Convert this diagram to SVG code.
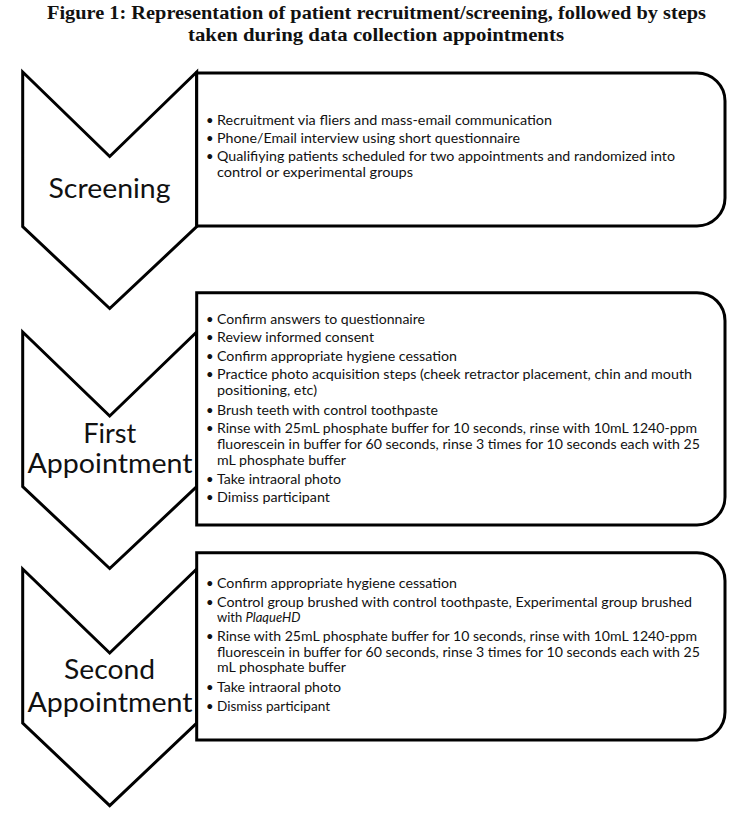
<svg xmlns="http://www.w3.org/2000/svg" width="751" height="816" viewBox="0 0 751 816">
<style>
.title{font-family:"Liberation Serif","Times New Roman",serif;font-weight:bold;font-size:19px;fill:#111;text-anchor:middle}
.shape{fill:#fff;stroke:#000;stroke-width:3;stroke-linejoin:miter}
.lbl{font-family:Lato,"Liberation Sans",sans-serif;font-size:27px;fill:#111;text-anchor:middle}
.t{font-family:Lato,"Liberation Sans",sans-serif;font-size:13px;fill:#111}
</style>
<rect width="751" height="816" fill="#fff"/>
<text class="title" x="376.5" y="19" textLength="659" lengthAdjust="spacingAndGlyphs">Figure 1: Representation of patient recruitment/screening, followed by steps</text>
<text class="title" x="376" y="41" textLength="376" lengthAdjust="spacingAndGlyphs">taken during data collection appointments</text>

<g id="connectors"></g>

<g id="screening">
<path class="shape" d="M22.7,72 L109.7,156.5 L196.7,72 L196.7,226.7 L109.7,308.5 L22.7,226.7 Z"/>
<text class="lbl" x="109.5" y="198" textLength="122" lengthAdjust="spacingAndGlyphs">Screening</text>
</g>
<g id="screening-box">
<path class="shape" d="M196.7,73 H697 A28,28 0 0 1 725,101 V198 A28,28 0 0 1 697,226 H196.7 Z"/>
<g class="t">
<text x="206" y="124.5">•</text><text x="217" y="124.5" textLength="335" lengthAdjust="spacingAndGlyphs">Recruitment via fliers and mass-email communication</text>
<text x="206" y="142.5">•</text><text x="217" y="142.5" textLength="303" lengthAdjust="spacingAndGlyphs">Phone/Email interview using short questionnaire</text>
<text x="206" y="160.5">•</text><text x="217" y="160.5" textLength="458" lengthAdjust="spacingAndGlyphs">Qualifiying patients scheduled for two appointments and randomized into</text>
<text x="217" y="177" textLength="196" lengthAdjust="spacingAndGlyphs">control or experimental groups</text>
</g>
</g>

<g id="first">
<path class="shape" d="M22.7,332 L109.7,416 L196.7,332 L196.7,486.7 L109.7,568.5 L22.7,486.7 Z"/>
<text class="lbl" x="109.7" y="442.7" textLength="53" lengthAdjust="spacingAndGlyphs">First</text>
<text class="lbl" x="110" y="473.3" textLength="165" lengthAdjust="spacingAndGlyphs">Appointment</text>
</g>
<g id="first-box">
<path class="shape" d="M196.7,292.7 H697 A28,28 0 0 1 725,320.7 V497 A28,28 0 0 1 697,525 H196.7 Z"/>
<g class="t">
<text x="206" y="323.5">•</text><text x="217" y="323.5" textLength="208" lengthAdjust="spacingAndGlyphs">Confirm answers to questionnaire</text>
<text x="206" y="341.5">•</text><text x="217" y="341.5" textLength="157" lengthAdjust="spacingAndGlyphs">Review informed consent</text>
<text x="206" y="360.5">•</text><text x="217" y="360.5" textLength="240" lengthAdjust="spacingAndGlyphs">Confirm appropriate hygiene cessation</text>
<text x="206" y="379.3">•</text><text x="217" y="379.3" textLength="475" lengthAdjust="spacingAndGlyphs">Practice photo acquisition steps (cheek retractor placement, chin and mouth</text>
<text x="217" y="395.3" textLength="100" lengthAdjust="spacingAndGlyphs">positioning, etc)</text>
<text x="206" y="414.5">•</text><text x="217" y="414.5" textLength="221" lengthAdjust="spacingAndGlyphs">Brush teeth with control toothpaste</text>
<text x="206" y="432.8">•</text><text x="217" y="432.8" textLength="480" lengthAdjust="spacingAndGlyphs">Rinse with 25mL phosphate buffer for 10 seconds, rinse with 10mL 1240-ppm</text>
<text x="217" y="449" textLength="483" lengthAdjust="spacingAndGlyphs">fluorescein in buffer for 60 seconds, rinse 3 times for 10 seconds each with 25</text>
<text x="217" y="465.3" textLength="129" lengthAdjust="spacingAndGlyphs">mL phosphate buffer</text>
<text x="206" y="483.5">•</text><text x="217" y="483.5" textLength="124" lengthAdjust="spacingAndGlyphs">Take intraoral photo</text>
<text x="206" y="501.7">•</text><text x="217" y="501.7" textLength="113" lengthAdjust="spacingAndGlyphs">Dimiss participant</text>
</g>
</g>

<g id="second">
<path class="shape" d="M22.7,569 L109.7,653 L196.7,569 L196.7,723 L109.7,805.7 L22.7,723 Z"/>
<text class="lbl" x="109.5" y="679.3" textLength="91" lengthAdjust="spacingAndGlyphs">Second</text>
<text class="lbl" x="110" y="711.7" textLength="165" lengthAdjust="spacingAndGlyphs">Appointment</text>
</g>
<g id="second-box">
<path class="shape" d="M196.7,552.7 H697 A28,28 0 0 1 725,580.7 V712 A28,28 0 0 1 697,740 H196.7 Z"/>
<g class="t">
<text x="206" y="588">•</text><text x="217" y="588" textLength="240" lengthAdjust="spacingAndGlyphs">Confirm appropriate hygiene cessation</text>
<text x="206" y="606.6">•</text><text x="217" y="606.6" textLength="475" lengthAdjust="spacingAndGlyphs">Control group brushed with control toothpaste, Experimental group brushed</text>
<text x="217" y="621.6">with <tspan font-style="italic">PlaqueHD</tspan></text>
<text x="206" y="640.8">•</text><text x="217" y="640.8" textLength="480" lengthAdjust="spacingAndGlyphs">Rinse with 25mL phosphate buffer for 10 seconds, rinse with 10mL 1240-ppm</text>
<text x="217" y="656.6" textLength="483" lengthAdjust="spacingAndGlyphs">fluorescein in buffer for 60 seconds, rinse 3 times for 10 seconds each with 25</text>
<text x="217" y="671.8" textLength="129" lengthAdjust="spacingAndGlyphs">mL phosphate buffer</text>
<text x="206" y="692">•</text><text x="217" y="692" textLength="124" lengthAdjust="spacingAndGlyphs">Take intraoral photo</text>
<text x="206" y="710.6">•</text><text x="217" y="710.6" textLength="113" lengthAdjust="spacingAndGlyphs">Dismiss participant</text>
</g>
</g>
</svg>
